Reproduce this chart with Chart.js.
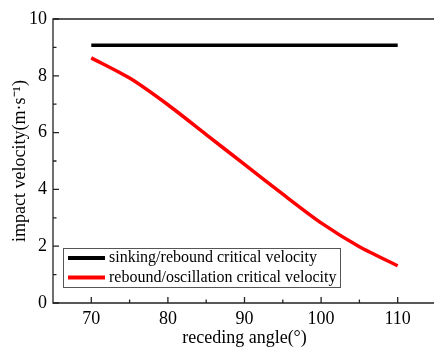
<!DOCTYPE html>
<html>
<head>
<meta charset="utf-8">
<script src="https://cdn.jsdelivr.net/npm/chart.js@4"></script>
<style>
  html, body { margin: 0; padding: 0; background: #fff; overflow: hidden; }
  #wrap { position: absolute; left: 0; top: 0; width: 438px; height: 349px; }
</style>
</head>
<body>
<div id="wrap"><canvas id="chart" width="438" height="349"></canvas></div>
<script>
// data
const angles = [70, 75, 80, 85, 90, 95, 100, 105, 110];
const sinkingRebound = [9.08, 9.08, 9.08, 9.08, 9.08, 9.08, 9.08, 9.08, 9.08];
const reboundOscillation = [8.63, 7.92, 6.98, 5.93, 4.88, 3.83, 2.82, 1.98, 1.31];
const seriesNames = ['sinking/rebound critical velocity', 'rebound/oscillation critical velocity'];
const xTicks = [70, 80, 90, 100, 110];
const yTicks = [0, 2, 4, 6, 8, 10];

const serif = '"Liberation Serif", "Times New Roman", serif';

// frame + inward ticks like the original plot
const framePlugin = {
    id: 'frame',
    afterDraw(chart) {
        const ctx = chart.ctx;
        const a = chart.chartArea;
        const xs = chart.scales.x, ys = chart.scales.y;
        ctx.save();
        ctx.strokeStyle = '#222';
        ctx.lineWidth = 1.3;
        ctx.beginPath();
        ctx.moveTo(a.right, a.top); ctx.lineTo(a.left, a.top);
        ctx.lineTo(a.left, a.bottom); ctx.lineTo(a.right, a.bottom);
        ctx.stroke();

        ctx.beginPath();
        for (let v = 0; v <= 10; v++) {
            const y = ys.getPixelForValue(v);
            const len = v % 2 === 0 ? 6 : 3.5;
            ctx.moveTo(a.left, y); ctx.lineTo(a.left + len, y);
        }
        for (let v = 70; v <= 110; v += 5) {
            const x = xs.getPixelForValue(v);
            const len = v % 10 === 0 ? 6 : 3.5;
            ctx.moveTo(x, a.bottom); ctx.lineTo(x, a.bottom - len);
        }
        ctx.stroke();
        ctx.restore();
    }
};

// boxed legend inside the plot, bottom left
const boxLegend = {
    id: 'boxLegend',
    afterDraw(chart) {
        const ctx = chart.ctx;
        const box = { left: 63, top: 248, right: 340, bottom: 287 };
        ctx.save();
        ctx.fillStyle = '#fff';
        ctx.fillRect(box.left, box.top, box.right - box.left, box.bottom - box.top);
        ctx.strokeStyle = '#555';
        ctx.lineWidth = 1;
        ctx.strokeRect(box.left + 0.5, box.top + 0.5, box.right - box.left, box.bottom - box.top);
        ctx.font = '16px ' + serif;
        ctx.textBaseline = 'middle';
        chart.data.datasets.forEach((ds, i) => {
            const y = 258 + i * 19.5;
            ctx.strokeStyle = ds.borderColor;
            ctx.lineWidth = 4;
            ctx.beginPath();
            ctx.moveTo(68, y); ctx.lineTo(105, y);
            ctx.stroke();
            ctx.fillStyle = '#000';
            ctx.fillText(ds.label, 109, y);
        });
        ctx.restore();
    }
};

new Chart(document.getElementById('chart'), {
    type: 'line',
    data: {
        datasets: [{
            label: seriesNames[0],
            data: angles.map((a, i) => ({ x: a, y: sinkingRebound[i] })),
            borderColor: '#000000',
            borderWidth: 3.5,
            pointRadius: 0,
            tension: 0
        }, {
            label: seriesNames[1],
            data: angles.map((a, i) => ({ x: a, y: reboundOscillation[i] })),
            borderColor: '#ff0000',
            borderWidth: 3.5,
            pointRadius: 0,
            tension: 0.25
        }]
    },
    options: {
        responsive: false,
        animation: false,
        layout: { padding: { top: 19, right: 2, left: 0, bottom: 0 } },
        plugins: {
            legend: { display: false },
            tooltip: { enabled: false }
        },
        scales: {
            x: {
                type: 'linear',
                min: 65,
                max: 115,
                afterBuildTicks: s => { s.ticks = xTicks.map(v => ({ value: v })); },
                afterFit: s => { s.height = 46; },
                grid: { display: false, drawTicks: false },
                border: { display: false },
                ticks: { color: '#000', padding: 5, font: { family: serif, size: 18 } },
                title: {
                    display: true,
                    text: 'receding angle(°)',
                    color: '#000',
                    padding: { top: 0, bottom: 0 },
                    font: { family: serif, size: 18 }
                }
            },
            y: {
                min: 0,
                max: 10,
                afterBuildTicks: s => { s.ticks = yTicks.map(v => ({ value: v })); },
                afterFit: s => { s.width = 53; },
                grid: { display: false, drawTicks: false },
                border: { display: false },
                ticks: { color: '#000', padding: 6, font: { family: serif, size: 18 } },
                title: {
                    display: true,
                    text: 'impact velocity(m·s⁻¹)',
                    color: '#000',
                    padding: { top: 9, bottom: 0 },
                    font: { family: serif, size: 18 }
                }
            }
        }
    },
    plugins: [framePlugin, boxLegend]
});
</script>
</body>
</html>
